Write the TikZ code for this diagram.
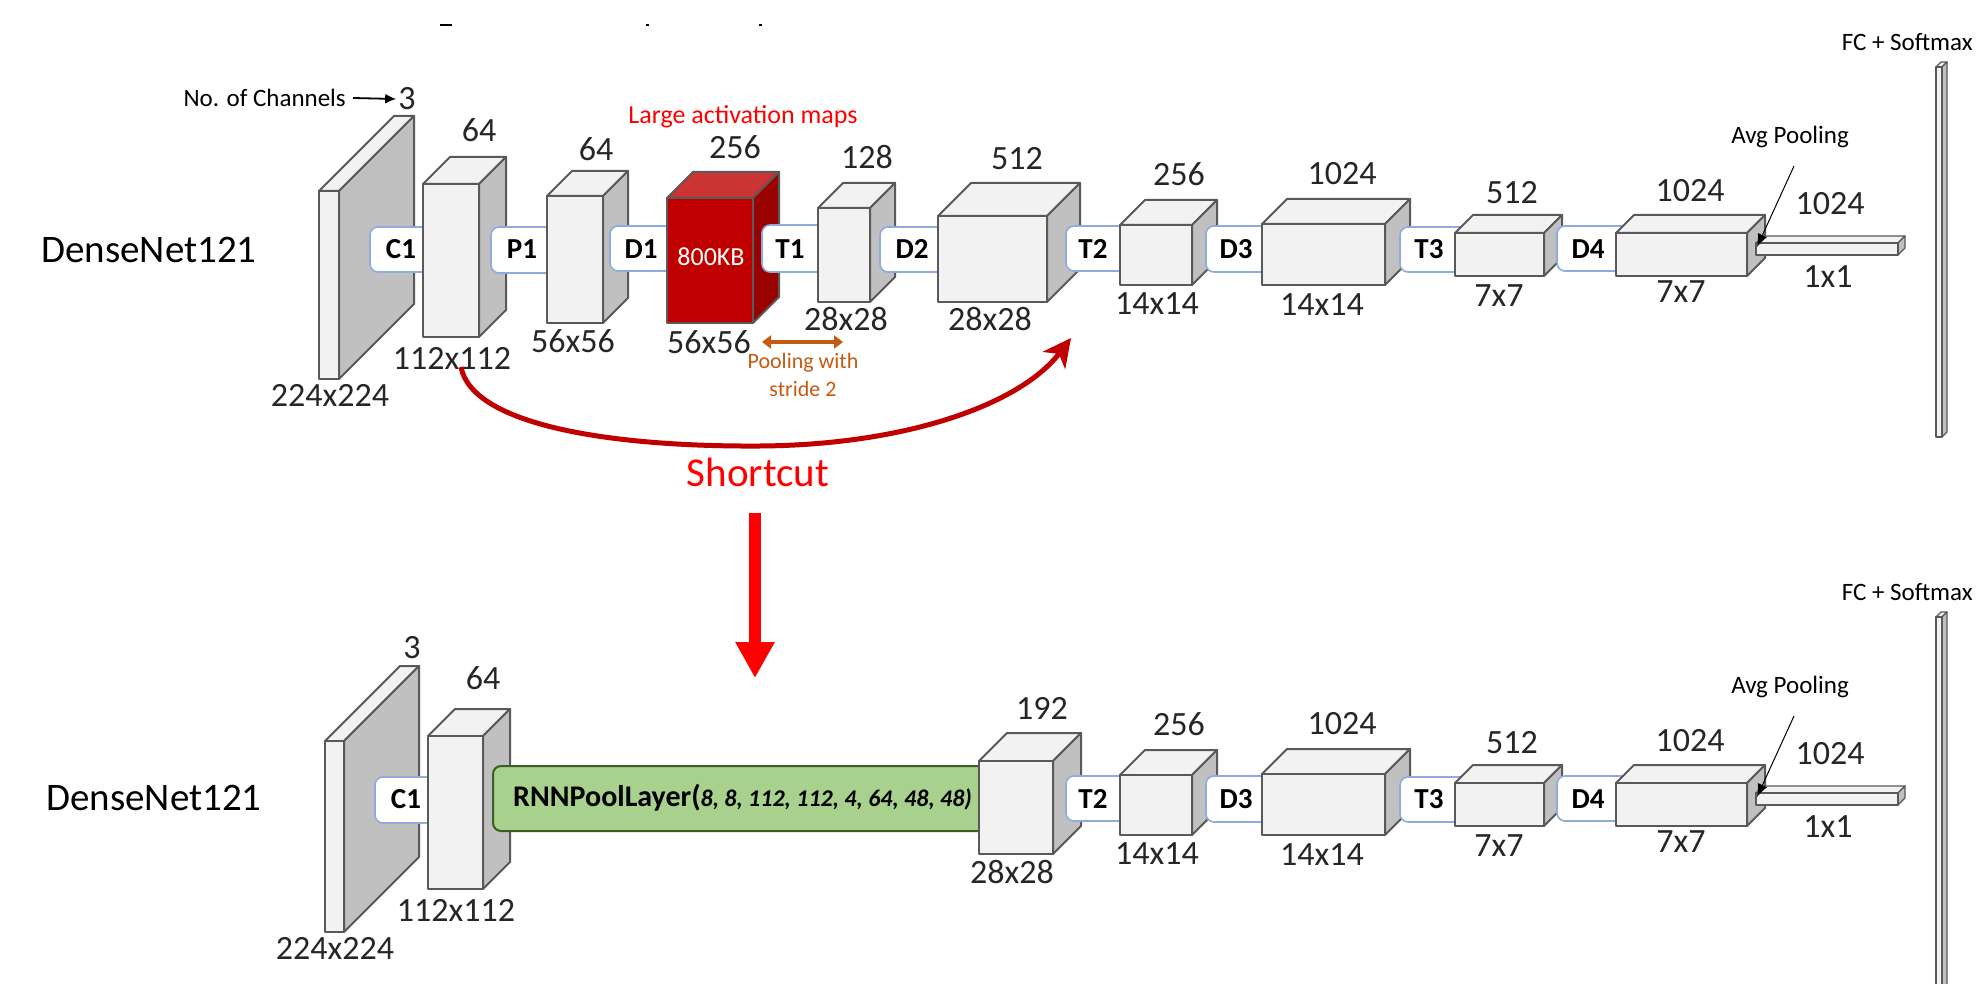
\documentclass[tikz,border=0pt]{standalone}
\usepackage{fontspec}
\setmainfont{Carlito}
\usetikzlibrary{arrows.meta}
\definecolor{frontc}{HTML}{F2F2F2}
\definecolor{topc}{HTML}{F2F2F2}
\definecolor{sidec}{HTML}{C0C0C0}
\definecolor{edgec}{HTML}{595959}
\definecolor{redfront}{HTML}{C00000}
\definecolor{redtop}{HTML}{CC3333}
\definecolor{redside}{HTML}{990000}
\definecolor{lblc}{HTML}{8FAADC}
\definecolor{greenfill}{HTML}{A9D18E}
\definecolor{greenedge}{HTML}{3B5E26}
\definecolor{darkred}{HTML}{C00000}
\definecolor{brightred}{HTML}{FF0000}
\definecolor{orangec}{HTML}{C55A11}
\definecolor{numc}{HTML}{262626}
\tikzset{
 cubeedge/.style={draw=edgec, line width=2pt, line join=round},
 thinedge/.style={draw=edgec, line width=1.3pt, line join=round},
 lblbox/.style={draw=lblc, fill=white, line width=1.6pt, rounded corners=8pt},
 lbltext/.style={font=\fontsize{29}{31}\selectfont\bfseries, inner sep=0pt},
 num/.style={font=\fontsize{34}{36}\selectfont, text=numc, inner sep=0pt},
 big/.style={font=\fontsize{39}{41}\selectfont, inner sep=0pt},
 small/.style={font=\fontsize{25}{27}\selectfont, inner sep=0pt},
}
% x y w h d front top side edge-style
\newcommand{\cuboid}[9]{%
  \filldraw[#9, fill=#7] (#1,#2) -- ({#1+#5},{#2-#5}) -- ({#1+#3+#5},{#2-#5}) -- ({#1+#3},#2) -- cycle;
  \filldraw[#9, fill=#8] ({#1+#3},#2) -- ({#1+#3+#5},{#2-#5}) -- ({#1+#3+#5},{#2+#4-#5}) -- ({#1+#3},{#2+#4}) -- cycle;
  \filldraw[#9, fill=#6] (#1,#2) rectangle ({#1+#3},{#2+#4});
}
\newcommand{\greycube}[5]{\cuboid{#1}{#2}{#3}{#4}{#5}{frontc}{topc}{sidec}{cubeedge}}
% right part of a row: prefix, FC bar height
\newcommand{\rightpart}[2]{%
  \draw[lblbox] (1066,226) rectangle (1140,271);
  \node[lbltext] (#1T2) at (1093,249) {T2};
  \greycube{1120}{225}{72}{60}{25}
  \node[num] (#1c256) at (1179,174) {256};
  \node[num] (#1s14a) at (1157,304) {14x14};
  \draw[lblbox] (1206,226) rectangle (1280,272);
  \node[lbltext] (#1D3) at (1236,249) {D3};
  \greycube{1262}{224}{123}{61}{25}
  \node[num] (#1c1024a) at (1342,174) {1024};
  \node[num] (#1s14b) at (1322,305) {14x14};
  \draw[lblbox] (1400,227) rectangle (1470,272);
  \node[lbltext] (#1T3) at (1429,249) {T3};
  \greycube{1455}{233}{89}{43}{18}
  \node[num] (#1c512) at (1512,193) {512};
  \node[num] (#1s7a) at (1499,296) {7x7};
  \draw[lblbox] (1557,226) rectangle (1630,271);
  \node[lbltext] (#1D4) at (1588,249) {D4};
  \greycube{1616}{233}{131}{43}{18}
  \node[num] (#1c1024b) at (1690,191) {1024};
  \node[num] (#1s7b) at (1681,292) {7x7};
  \cuboid{1756}{243}{142}{12}{7}{frontc}{topc}{sidec}{thinedge}
  \node[num] (#1c1024c) at (1830,204) {1024};
  \node[num] (#1s1) at (1828,277) {1x1};
  \node[small] (#1avg) at (1790,137) {Avg Pooling};
  \coordinate (#1avgs) at (1794,166);
  \coordinate (#1avge) at (1757,247);
  \draw[line width=1pt, -{Latex[length=13pt,width=10pt]}] (#1avgs) -- (#1avge);
  \node[small, anchor=east] (#1fc) at (1973,42) {FC + Softmax};
  \cuboid{1936}{67}{6}{#2}{5}{frontc}{topc}{sidec}{thinedge}
}
\begin{document}
\begin{tikzpicture}[x=1pt,y=-1pt]
\useasboundingbox (0,0) rectangle (1976,984);
\clip (0,0) rectangle (1976,984);
\fill[white] (0,0) rectangle (1976,984);
% remnants of a clipped title
\fill (440,24) rectangle (452,26.5);
\fill (646,24) rectangle (649,26.5);
\fill (759,24) rectangle (762,26.5);

% ================= TOP ROW =================
\node[big] (topname) at (149,250) {DenseNet121};
\greycube{319}{191}{20}{188}{75}
\node[small, anchor=east] (noc) at (346,98) {No. of Channels};
\node[num] (tc3) at (407,99) {3};
\draw[line width=1.8pt, -{Latex[length=11pt,width=10pt]}] ([xshift=7pt]noc.east) -- ([xshift=-2pt]tc3.west);
\node[num] (ts224) at (330,395) {224x224};
\draw[lblbox] (370,227) rectangle (445,272);
\node[lbltext] (tC1) at (401,249) {C1};
\greycube{423}{184}{56}{153}{27}
\node[num] (tc64a) at (479,130) {64};
\node[num] (ts112) at (452,358) {112x112};
\draw[lblbox] (491,227) rectangle (565,273);
\node[lbltext] (tP1) at (522,249) {P1};
\greycube{547}{196}{56}{127}{25}
\node[num] (tc64b) at (596,149) {64};
\node[num] (ts56a) at (573,341) {56x56};
\draw[lblbox] (610,226) rectangle (685,271);
\node[lbltext] (tD1) at (641,249) {D1};
\cuboid{667}{198}{86}{125}{26}{redfront}{redtop}{redside}{cubeedge}
\node[font=\fontsize{26}{28}\selectfont, text=white, inner sep=0pt] (kb) at (711,257) {800KB};
\node[num] (tc256) at (735,147) {256};
\node[font=\fontsize{26}{28}\selectfont, text=brightred, inner sep=0pt] (lam) at (743,117) {Large activation maps};
\node[num] (ts56b) at (709,342) {56x56};
\draw[lblbox] (762,225) rectangle (835,272);
\node[lbltext] (tT1) at (790,249) {T1};
\greycube{818}{208}{52}{94}{25}
\node[num] (tc128) at (867,157) {128};
\node[num] (ts28a) at (846,319) {28x28};
\coordinate (pa) at (762,342);
\coordinate (pb) at (843,342);
\draw[orangec, line width=3pt, {Triangle[length=9pt,width=13pt]}-{Triangle[length=9pt,width=13pt]}] (pa) -- (pb);
\node[font=\fontsize{22}{24}\selectfont, text=orangec, inner sep=0pt] (pw) at (803,363) {Pooling with};
\node[font=\fontsize{22}{24}\selectfont, text=orangec, inner sep=0pt] (st) at (803,389) {stride 2};
\draw[lblbox] (880,227) rectangle (955,272);
\node[lbltext] (tD2) at (912,249) {D2};
\greycube{938}{216}{109}{86}{33}
\node[num] (tc512) at (1017,159) {512};
\node[num] (ts28b) at (990,319) {28x28};
\rightpart{t}{370}

% shortcut
\coordinate (sca) at (461,367);
\coordinate (scm) at (760,446);
\coordinate (scb) at (1071,338);
\draw[darkred, line width=5pt, -{Stealth[length=28pt,width=28pt,inset=8pt]}]
  (sca) .. controls (472,425) and (610,447) .. (scm) .. controls (905,445) and (1020,405) .. (scb);
\node[font=\fontsize{41}{43}\selectfont, text=brightred, inner sep=0pt] (sc) at (758,472) {Shortcut};
\coordinate (da) at (755,513);
\coordinate (db) at (755,678);
\draw[brightred, line width=12pt, -{Triangle[length=36pt,width=37pt]}] (da) -- (db);

% ================= BOTTOM ROW =================
\node[big] (botname) at (154,798) {DenseNet121};
\greycube{325}{741}{19}{191}{75}
\node[num] (bc3) at (412,648) {3};
\node[num] (bs224) at (335,948) {224x224};
\draw[lblbox] (375,777) rectangle (450,823);
\node[lbltext] (bC1) at (406,799) {C1};
\greycube{428}{736}{55}{153}{27}
\node[num] (bc64) at (483,678) {64};
\node[num] (bs112) at (456,910) {112x112};
\draw[draw=greenedge, fill=greenfill, line width=2pt, rounded corners=8pt] (493,766) rectangle (1000,831);
\node[anchor=base west, inner sep=0pt] (rnn) at (513,806)
  {\fontsize{30}{32}\selectfont\bfseries RNNPoolLayer(\fontsize{24}{26}\selectfont\itshape 8, 8, 112, 112, 4, 64, 48, 48)};
\greycube{979}{761}{74}{93}{28}
\node[num] (bc192) at (1042,708) {192};
\node[num] (bs28) at (1012,872) {28x28};
\begin{scope}[yshift=-550pt]
\rightpart{b}{380}
\end{scope}
\end{tikzpicture}
\end{document}
